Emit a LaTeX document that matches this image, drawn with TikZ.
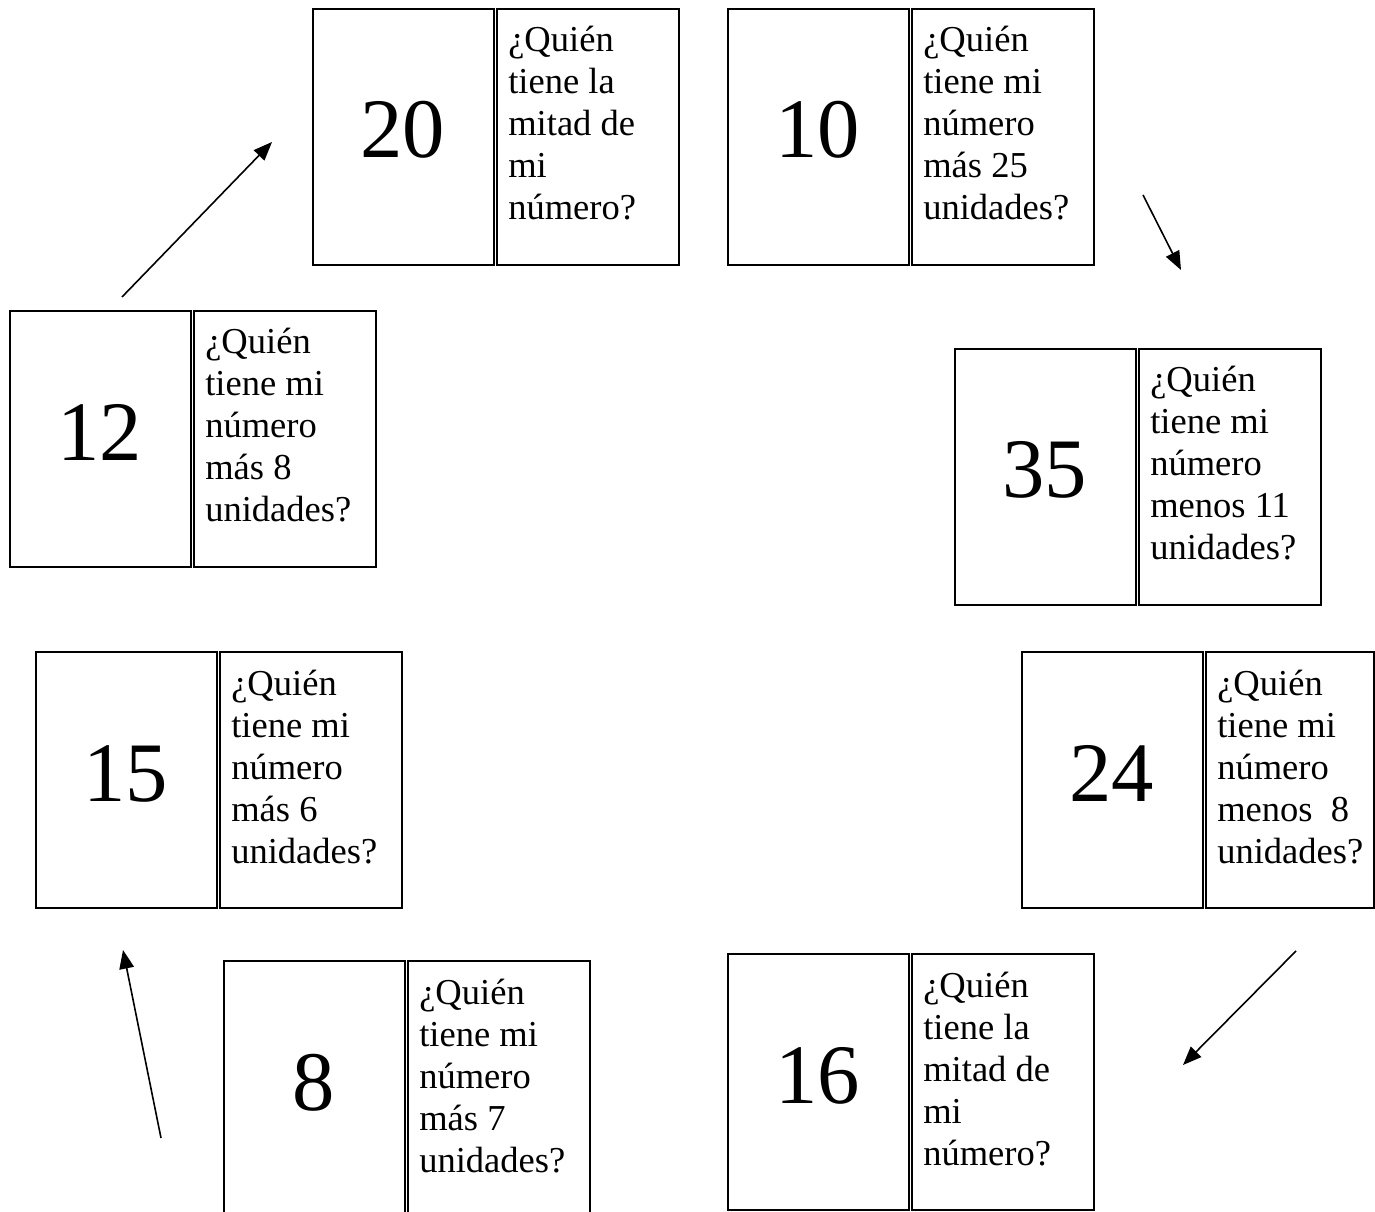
\documentclass[tikz,border=0pt]{standalone}
\usepackage{fontspec}
\setmainfont{Liberation Serif}
\usetikzlibrary{arrows.meta}
\tikzset{
  cardbox/.style={draw=black, line width=1.4pt, minimum height=192pt, inner sep=0pt, anchor=north west},
  numtext/.style={font=\fontsize{63.5}{70}\selectfont, inner sep=0pt, anchor=base},
  qtext/.style={font=\fontsize{27.4}{31.5}\selectfont, inner sep=0pt, anchor=base west},
  flowarrow/.style={line width=1.2pt, -{Triangle[length=14pt,width=11pt]}}
}
% #1 name, #2 x, #3 y (top), #4 number, #5 text, #6 right box width (pt)
\newcommand\qcard[6]{%
  \node[cardbox, minimum width=135.75pt] (#1a) at (#2,#3) {};
  \node[cardbox, minimum width=#6] (#1b) at (#2+184,#3) {};
  \node[numtext] (#1n) at (#2+90.5,#3+150) {#4};
  \node[qtext] (#1t) at (#2+196,#3+44) {\parbox[t]{130pt}{\raggedright #5}};
}
\begin{document}
\begin{tikzpicture}[x=0.75pt,y=-0.75pt]
\useasboundingbox (0,0) rectangle (1375,1212);
\qcard{c20}{312}{8}{20}{¿Quién\\tiene la\\mitad de\\mi\\número?}{136.5pt}
\qcard{c10}{727}{8}{10}{¿Quién\\tiene mi\\número\\más 25\\unidades?}{136.5pt}
\qcard{c35}{954}{348}{35}{¿Quién\\tiene mi\\número\\menos 11\\unidades?}{136.5pt}
\qcard{c24}{1021}{651}{24}{¿Quién\\tiene mi\\número\\menos\ \ 8\\unidades?}{126pt}
\qcard{c16}{727}{953}{16}{¿Quién\\tiene la\\mitad de\\mi\\número?}{136.5pt}
\qcard{c8}{223}{960}{8}{¿Quién\\tiene mi\\número\\más 7\\unidades?}{136.5pt}
\qcard{c15}{35}{651}{15}{¿Quién\\tiene mi\\número\\más 6\\unidades?}{136.5pt}
\qcard{c12}{9}{310}{12}{¿Quién\\tiene mi\\número\\más 8\\unidades?}{136.5pt}
\coordinate (a1s) at (122,297);
\coordinate (a1e) at (272,142);
\coordinate (a2s) at (1143,195);
\coordinate (a2e) at (1181,270);
\coordinate (a3s) at (1296,951);
\coordinate (a3e) at (1183,1065);
\coordinate (a4s) at (161,1138);
\coordinate (a4e) at (123,950);
\draw[flowarrow] (a1s) -- (a1e);
\draw[flowarrow] (a2s) -- (a2e);
\draw[flowarrow] (a3s) -- (a3e);
\draw[flowarrow] (a4s) -- (a4e);
\end{tikzpicture}
\end{document}
